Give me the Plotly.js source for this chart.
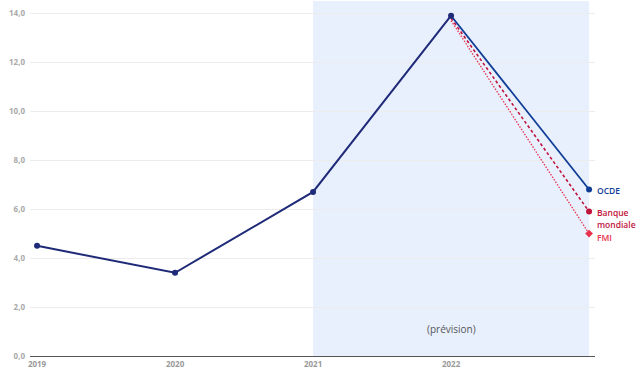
<!DOCTYPE html>
<html><head><meta charset="utf-8">
<script src="https://cdn.plot.ly/plotly-3.0.1.min.js"></script>
<style>html,body{margin:0;padding:0;background:#fff}#c{width:642px;height:378px}</style>
</head><body><div id="c"></div>
<script>
const histYears = [2019, 2020, 2021, 2022];
const histValues = [4.5, 3.4, 6.7, 13.9];
const fcYears = [2022, 2023];
const ocde = [13.9, 6.8];
const banque = [13.8, 5.9];
const fmi = [13.7, 5.0];
const tickYears = [2019, 2020, 2021, 2022];
const forecastStart = 2021, forecastEnd = 2023;

const traces = [
  {x: fcYears, y: fmi, mode: 'lines', line: {color: '#e8324d', width: 1.3, dash: '1.5px,1.5px'}, hoverinfo: 'skip'},
  {x: fcYears, y: banque, mode: 'lines', line: {color: '#c0143c', width: 1.6, dash: '3px,2.5px'}, hoverinfo: 'skip'},
  {x: fcYears, y: ocde, mode: 'lines', line: {color: '#0f3d96', width: 1.8}, hoverinfo: 'skip'},
  {x: histYears, y: histValues, mode: 'lines+markers', line: {color: '#1f2a78', width: 2}, marker: {size: 6, color: '#1f2a78'}},
  {x: [fcYears[1]], y: [ocde[1]], mode: 'markers', marker: {size: 6, color: '#0f3d96'}},
  {x: [fcYears[1]], y: [banque[1]], mode: 'markers', marker: {size: 6, color: '#c0143c'}},
  {x: [fcYears[1]], y: [fmi[1]], mode: 'markers', marker: {size: 6, color: '#e8324d', symbol: 'diamond'}}
];

const lab = (y, text, color, yshift) => ({x: 2023, y: y, xref: 'x', yref: 'y', text: text, showarrow: false,
  xanchor: 'left', yanchor: 'middle', xshift: 6, yshift: yshift,
  font: {size: 8.5, color: color, family: 'Open Sans, sans-serif', weight: 600}});

const layout = {
  width: 642, height: 378,
  margin: {l: 30, r: 47, t: 1, b: 22},
  paper_bgcolor: '#fff', plot_bgcolor: '#fff',
  showlegend: false,
  separators: ', ',
  font: {family: 'Open Sans, sans-serif'},
  xaxis: {
    range: [2018.949, 2023.043],
    tickvals: tickYears, ticktext: tickYears.map(String),
    showgrid: false, zeroline: false,
    showline: true, linecolor: '#555', linewidth: 1,
    tickfont: {size: 8, color: '#999', family: 'Open Sans, sans-serif', weight: 'bold'},
    ticks: '', ticklen: 0
  },
  yaxis: {
    range: [0, 14.5], dtick: 2, tickformat: '.1f',
    showgrid: true, gridcolor: '#ececec', gridwidth: 1,
    zeroline: false, showline: false,
    tickfont: {size: 8, color: '#aaa', family: 'Open Sans, sans-serif', weight: 'bold'},
    ticks: '', ticklabelstandoff: 4
  },
  shapes: [
    {type: 'rect', xref: 'x', yref: 'paper', x0: forecastStart, x1: forecastEnd, y0: 0, y1: 1,
     fillcolor: '#e8f0fe', line: {width: 0}, layer: 'below'}
  ],
  annotations: [
    {x: 2022, y: 1.1, xref: 'x', yref: 'y', text: '(prévision)', showarrow: false,
     font: {size: 10, color: '#555', family: 'Open Sans, sans-serif'}},
    lab(ocde[1], 'OCDE', '#0f3d96', -1),
    lab(banque[1], 'Banque', '#c0143c', -1),
    lab(banque[1], 'mondiale', '#c0143c', -12.5),
    lab(fmi[1], 'FMI', '#e8324d', -4)
  ]
};
Plotly.newPlot('c', traces, layout, {displayModeBar: false, staticPlot: true});
</script></body></html>
